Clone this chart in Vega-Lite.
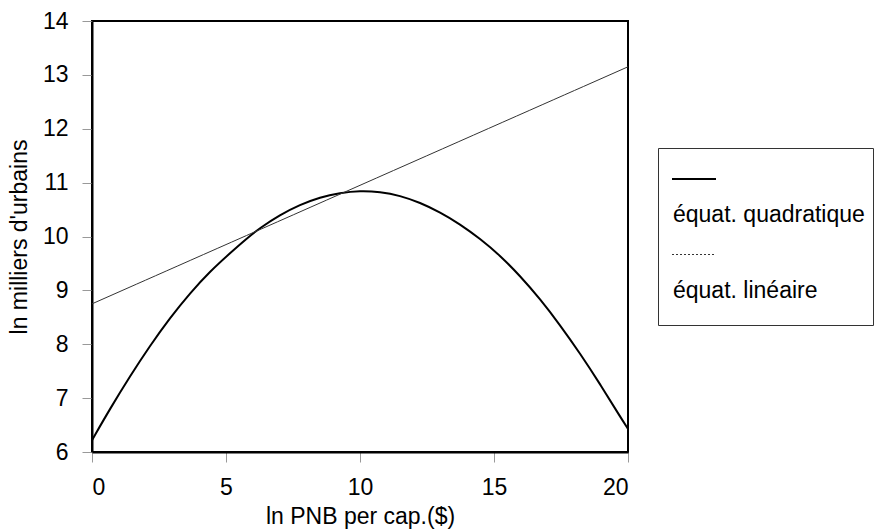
{
  "$schema": "https://vega.github.io/schema/vega-lite/v6.json",
  "width": 536,
  "height": 431,
  "autosize": {"type": "none"},
  "padding": {"left": 92, "top": 21, "right": 252, "bottom": 77},
  "background": "white",
  "config": {
    "font": "Liberation Sans",
    "view": {"stroke": "black", "strokeWidth": 2},
    "axis": {
      "domainColor": "black",
      "domainWidth": 2,
      "tickColor": "#999999",
      "tickSize": 10,
      "tickWidth": 1,
      "labelFontSize": 23,
      "labelColor": "black",
      "labelFont": "Liberation Sans",
      "titleFont": "Liberation Sans",
      "titleFontSize": 23,
      "titleFontWeight": "normal",
      "titleColor": "black",
      "grid": false
    }
  },
  "data": {
    "values": [
      {"x": 0, "y": 6.22, "series": "équat. quadratique"},
      {"x": 0.67, "y": 6.8, "series": "équat. quadratique"},
      {"x": 1.42, "y": 7.41, "series": "équat. quadratique"},
      {"x": 2.16, "y": 7.97, "series": "équat. quadratique"},
      {"x": 2.91, "y": 8.49, "series": "équat. quadratique"},
      {"x": 3.66, "y": 8.95, "series": "équat. quadratique"},
      {"x": 4.4, "y": 9.35, "series": "équat. quadratique"},
      {"x": 5.15, "y": 9.69, "series": "équat. quadratique"},
      {"x": 5.77, "y": 9.96, "series": "équat. quadratique"},
      {"x": 6.27, "y": 10.16, "series": "équat. quadratique"},
      {"x": 7.01, "y": 10.4, "series": "équat. quadratique"},
      {"x": 7.76, "y": 10.59, "series": "équat. quadratique"},
      {"x": 8.51, "y": 10.73, "series": "équat. quadratique"},
      {"x": 9.25, "y": 10.81, "series": "équat. quadratique"},
      {"x": 10.0, "y": 10.85, "series": "équat. quadratique"},
      {"x": 10.75, "y": 10.83, "series": "équat. quadratique"},
      {"x": 11.49, "y": 10.76, "series": "équat. quadratique"},
      {"x": 12.24, "y": 10.63, "series": "équat. quadratique"},
      {"x": 12.99, "y": 10.45, "series": "équat. quadratique"},
      {"x": 13.73, "y": 10.23, "series": "équat. quadratique"},
      {"x": 14.48, "y": 9.96, "series": "équat. quadratique"},
      {"x": 15.22, "y": 9.65, "series": "équat. quadratique"},
      {"x": 15.97, "y": 9.27, "series": "équat. quadratique"},
      {"x": 16.72, "y": 8.84, "series": "équat. quadratique"},
      {"x": 17.46, "y": 8.36, "series": "équat. quadratique"},
      {"x": 18.21, "y": 7.83, "series": "équat. quadratique"},
      {"x": 18.96, "y": 7.26, "series": "équat. quadratique"},
      {"x": 19.7, "y": 6.66, "series": "équat. quadratique"},
      {"x": 20, "y": 6.43, "series": "équat. quadratique"},
      {"x": 0, "y": 8.75, "series": "équat. linéaire"},
      {"x": 10, "y": 10.95, "series": "équat. linéaire"},
      {"x": 20, "y": 13.15, "series": "équat. linéaire"}
    ]
  },
  "mark": {"type": "line", "interpolate": "basis", "clip": true},
  "encoding": {
    "x": {
      "field": "x",
      "type": "quantitative",
      "scale": {"domain": [0, 20], "nice": false},
      "axis": {"values": [0, 5, 10, 15, 20], "title": "ln PNB per cap.($)", "labelPadding": 14, "titlePadding": 6}
    },
    "y": {
      "field": "y",
      "type": "quantitative",
      "scale": {"domain": [6, 14], "nice": false, "zero": false},
      "axis": {"values": [6, 7, 8, 9, 10, 11, 12, 13, 14], "title": "ln milliers d'urbains", "labelPadding": 14, "titlePadding": 11}
    },
    "color": {
      "field": "series",
      "type": "nominal",
      "scale": {"domain": ["équat. quadratique", "équat. linéaire"], "range": ["black", "#333333"]},
      "legend": {
        "title": " ",
        "titleOrient": "bottom",
        "titleFontSize": 14,
        "titlePadding": 0,
        "orient": "none",
        "legendX": 566,
        "legendY": 127,
        "strokeColor": "#333333",
        "fillColor": "white",
        "padding": 8,
        "symbolOffset": 5,
        "symbolType": "stroke",
        "symbolSize": 1936,
        "labelFontSize": 23,
        "labelFont": "Liberation Sans",
        "labelColor": "black",
        "labelLimit": 400,
        "labelBaseline": "top",
        "labelLineHeight": 24,
        "labelOffset": -44,
        "labelExpr": "['', datum.label]",
        "rowPadding": 5,
        "encode": {
          "symbols": {
            "update": {
              "strokeDash": {"signal": "datum.value === 'équat. linéaire' ? [2, 2] : [1, 0]"},
              "stroke": {"signal": "datum.value === 'équat. linéaire' ? '#666666' : 'black'"}
            }
          }
        }
      }
    },
    "strokeWidth": {
      "field": "series",
      "type": "nominal",
      "scale": {"domain": ["équat. quadratique", "équat. linéaire"], "range": [2, 1]}
    }
  }
}
